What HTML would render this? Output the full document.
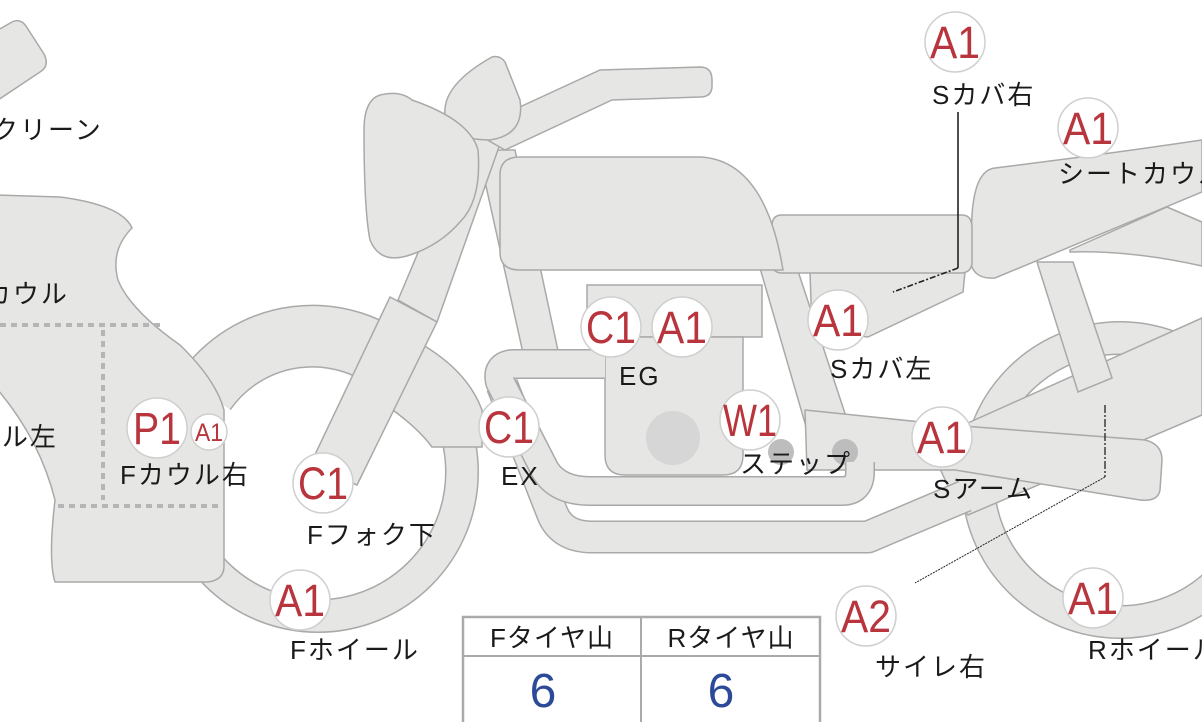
<!DOCTYPE html>
<html><head><meta charset="utf-8"><style>
html,body{margin:0;padding:0;background:#fff;width:1202px;height:722px;overflow:hidden}
svg{display:block}
text{font-family:"Liberation Sans","Noto Sans CJK JP",sans-serif}
.s{fill:#e6e6e4;stroke:#a9a9a9;stroke-width:1.5}
.lb{font-size:26px;fill:#1a1a1a;letter-spacing:2px}
.c{fill:#fff;stroke:#cfcfcf;stroke-width:1.5}
.ct{font-size:45px;fill:#b8353d;text-anchor:middle}
</style></head><body>
<svg width="1202" height="722" viewBox="0 0 1202 722" xmlns="http://www.w3.org/2000/svg">
<circle cx="1120" cy="480" r="142" fill="none" stroke="#a9a9a9" stroke-width="34"/>
<circle cx="1120" cy="480" r="142" fill="none" stroke="#e6e6e4" stroke-width="31"/>
<path class="s" d="M930,440 L1202,318 L1202,415 L968,515 Q945,490 930,440 Z"/>
<path class="s" d="M1037,262 L1073,262 L1112,378 L1078,392 Z"/>
<path class="s" d="M1070,250 L1167,207 L1202,222 L1202,266 Q1130,250 1070,252 Z"/>
<path class="s" d="M995,168 Q1100,155 1202,140 L1202,192 L995,278 Q970,280 970,255 L972,215 Q975,170 995,168 Z"/>
<path class="s" d="M760,268 L797,268 L862,465 L818,468 Z"/>
<path class="s" d="M805,410 L950,425 L1145,440 Q1162,444 1162,460 L1160,490 Q1158,502 1140,500 L955,470 L807,470 Z"/>
<path class="s" d="M810,272 L965,272 L963,292 L868,337 L812,330 Z"/>
<path class="s" d="M782,215 L962,215 Q972,215 972,228 L972,262 Q972,273 960,273 L782,273 Q772,273 772,262 L772,226 Q772,215 782,215 Z"/>
<path class="s" d="M478,150 L515,150 L560,360 L525,362 Z"/>
<path class="s" d="M520,157 L700,157 Q765,160 783,270 L520,270 Q500,270 500,252 L500,175 Q500,157 520,157 Z"/>
<path class="s" d="M587,285 L762,285 L762,337 L587,337 Z"/>
<path class="s" d="M605,337 L743,337 L743,455 Q743,475 723,475 L625,475 Q605,475 605,455 Z"/>
<circle cx="673" cy="438" r="27" fill="#d6d6d6"/>
<circle cx="781" cy="452" r="13" fill="#bdbdbd"/>
<circle cx="845" cy="452" r="13" fill="#bdbdbd"/>
<path d="M502,385 L553,515 Q563,537 592,537 L868,537 L965,496" fill="none" stroke="#a9a9a9" stroke-width="33" stroke-linejoin="round"/>
<path d="M502,385 L553,515 Q563,537 592,537 L868,537 L965,496" fill="none" stroke="#e6e6e4" stroke-width="30" stroke-linejoin="round"/>
<path d="M605,364 L512,364 Q496,366 500,382 L545,470 Q558,491 590,491 L842,491 Q860,491 860,472 L860,462" fill="none" stroke="#a9a9a9" stroke-width="30" stroke-linejoin="round"/>
<path d="M605,364 L512,364 Q496,366 500,382 L545,470 Q558,491 590,491 L842,491 Q860,491 860,472 L860,462" fill="none" stroke="#e6e6e4" stroke-width="27" stroke-linejoin="round"/>
<circle cx="318" cy="472" r="144" fill="none" stroke="#a9a9a9" stroke-width="34"/>
<circle cx="318" cy="472" r="144" fill="none" stroke="#e6e6e4" stroke-width="31"/>
<path d="M205,392 A131,131 0 0 1 398,368" fill="none" stroke="#a9a9a9" stroke-width="63"/>
<path d="M205,392 A131,131 0 0 1 398,368" fill="none" stroke="#e6e6e4" stroke-width="60"/>
<path class="s" d="M423,345 Q468,372 482,410 L482,447 L432,447 Q418,428 390,408 Z"/>
<path class="s" d="M472,125 L505,130 L437,322 L398,300 Z"/>
<path class="s" d="M390,297 L437,322 L357,485 L310,465 Z"/>
<path class="s" d="M470,130 L600,70 L700,67 Q712,67 712,80 L712,86 Q712,97 700,97 L612,100 L505,150 Z"/>
<path class="s" d="M492,57 Q500,55 505,62 L520,100 Q525,135 490,140 Q450,140 445,115 Q442,85 492,57 Z"/>
<path class="s" d="M380,95 Q400,90 412,100 Q470,120 478,150 Q482,200 460,222 Q440,245 410,255 Q380,265 370,240 Q364,210 364,130 Q364,100 380,95 Z"/>
<path class="s" d="M-2,195 L60,197 Q122,205 132,228 Q110,250 118,280 Q130,310 180,345 Q216,380 224,410 L224,566 Q224,580 208,582 L55,582 Q48,560 55,500 Q40,440 -2,390 Z"/>
<path class="s" d="M-2,30 L12,22 Q20,18 26,26 L44,54 Q50,66 40,72 L-2,100 Z"/>
<g stroke="#b5b5b5" stroke-width="4" stroke-dasharray="6 5" fill="none">
<path d="M0,325 L165,325"/><path d="M103,330 L103,500"/><path d="M58,506 L222,506"/>
</g>
<path d="M958,112 L958,268" stroke="#222" stroke-width="1.6" fill="none"/>
<path d="M958,268 L893,292" stroke="#222" stroke-width="1.6" stroke-dasharray="6 2 2 2" fill="none"/>
<path d="M1105,405 L1105,477" stroke="#222" stroke-width="1.3" stroke-dasharray="8 2 2 2" fill="none"/>
<path d="M1105,477 L915,583" stroke="#222" stroke-width="1" stroke-dasharray="2 1" fill="none"/>
<g>
<circle class="c" cx="955" cy="42" r="30"/><text class="ct" x="955" y="58" textLength="50" lengthAdjust="spacingAndGlyphs">A1</text>
<circle class="c" cx="1088" cy="128" r="30"/><text class="ct" x="1088" y="144" textLength="50" lengthAdjust="spacingAndGlyphs">A1</text>
<circle class="c" cx="611" cy="327" r="30"/><text class="ct" x="611" y="343" textLength="50" lengthAdjust="spacingAndGlyphs">C1</text>
<circle class="c" cx="682" cy="327" r="30"/><text class="ct" x="682" y="343" textLength="50" lengthAdjust="spacingAndGlyphs">A1</text>
<circle class="c" cx="838" cy="320" r="30"/><text class="ct" x="838" y="336" textLength="50" lengthAdjust="spacingAndGlyphs">A1</text>
<circle class="c" cx="750" cy="420" r="30"/><text class="ct" x="750" y="436" textLength="54" lengthAdjust="spacingAndGlyphs">W1</text>
<circle class="c" cx="942" cy="437" r="30"/><text class="ct" x="942" y="453" textLength="50" lengthAdjust="spacingAndGlyphs">A1</text>
<circle class="c" cx="509" cy="427" r="30"/><text class="ct" x="509" y="443" textLength="50" lengthAdjust="spacingAndGlyphs">C1</text>
<circle class="c" cx="157" cy="428" r="30"/><text class="ct" x="157" y="444" textLength="48" lengthAdjust="spacingAndGlyphs">P1</text>
<circle class="c" cx="209" cy="432" r="18"/><text class="ct" x="209" y="441" style="font-size:25px" textLength="28" lengthAdjust="spacingAndGlyphs">A1</text>
<circle class="c" cx="323" cy="483" r="30"/><text class="ct" x="323" y="499" textLength="50" lengthAdjust="spacingAndGlyphs">C1</text>
<circle class="c" cx="300" cy="600" r="30"/><text class="ct" x="300" y="616" textLength="50" lengthAdjust="spacingAndGlyphs">A1</text>
<circle class="c" cx="866" cy="616" r="30"/><text class="ct" x="866" y="632" textLength="50" lengthAdjust="spacingAndGlyphs">A2</text>
<circle class="c" cx="1093" cy="598" r="30"/><text class="ct" x="1093" y="614" textLength="50" lengthAdjust="spacingAndGlyphs">A1</text>
</g>
<g>
<text x="-36" y="139" class="lb">スクリーン</text>
<text x="-33" y="303" class="lb">Fカウル</text>
<text x="-72" y="446" class="lb">Fカウル左</text>
<text x="932" y="104" class="lb">Sカバ右</text>
<text x="1058" y="183" class="lb">シートカウル</text>
<text x="619" y="385" class="lb">EG</text>
<text x="830" y="378" class="lb">Sカバ左</text>
<text x="740" y="473" class="lb">ステップ</text>
<text x="933" y="498" class="lb">Sアーム</text>
<text x="501" y="485" class="lb">EX</text>
<text x="120" y="484" class="lb">Fカウル右</text>
<text x="307" y="544" class="lb">Fフォク下</text>
<text x="290" y="659" class="lb">Fホイール</text>
<text x="875" y="676" class="lb">サイレ右</text>
<text x="1088" y="659" class="lb">Rホイール</text>
</g>
<rect x="463" y="617" width="357" height="110" fill="#fff" stroke="#aaa" stroke-width="2.5"/>
<line x1="463" y1="656" x2="820" y2="656" stroke="#aaa" stroke-width="2"/>
<line x1="641" y1="617" x2="641" y2="722" stroke="#aaa" stroke-width="2"/>
<text x="552" y="647" class="lb" text-anchor="middle" style="letter-spacing:1px">Fタイヤ山</text>
<text x="731" y="647" class="lb" text-anchor="middle" style="letter-spacing:1px">Rタイヤ山</text>
<text x="543" y="707" style="font-size:48px;fill:#2c4a98" text-anchor="middle">6</text>
<text x="721" y="707" style="font-size:48px;fill:#2c4a98" text-anchor="middle">6</text>
</svg>
</body></html>
